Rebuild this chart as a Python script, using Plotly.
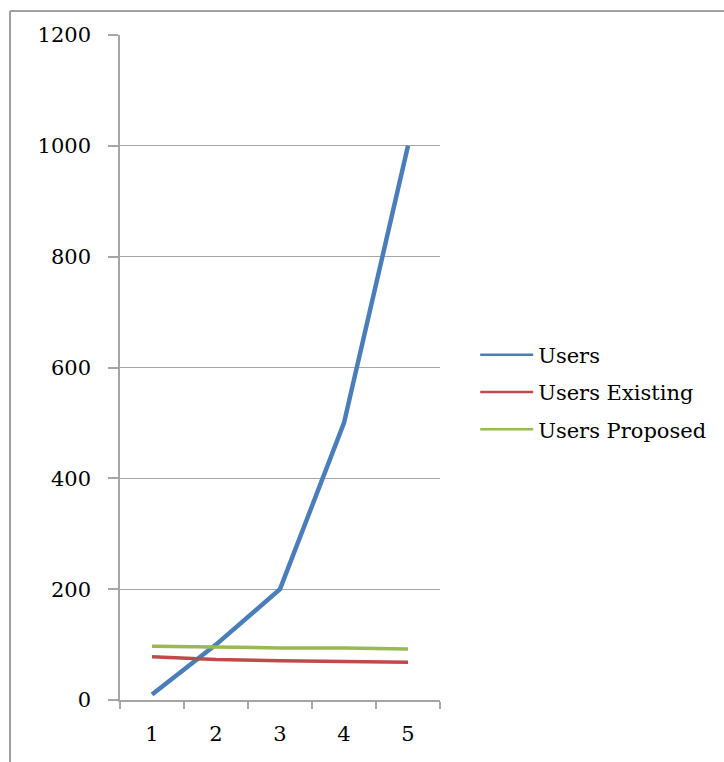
import plotly.graph_objects as go

# Category labels and series values
categories = ["1", "2", "3", "4", "5"]
users = [10, 100, 200, 500, 1000]
users_existing = [78, 73, 71, 70, 68]
users_proposed = [97, 95, 94, 94, 92]

y_ticks = [0, 200, 400, 600, 800, 1000, 1200]

W, H = 724, 762
L, R, T, B = 120, 284, 35, 62
FONT = "DejaVu Serif"
GRID = "#a6a6a6"

fig = go.Figure()
series = [
    ("Users", users, "#4a7ebb", 4.5),
    ("Users Existing", users_existing, "#be4b48", 3.5),
    ("Users Proposed", users_proposed, "#98b954", 3.5),
]
for name, vals, color, width in series:
    fig.add_trace(go.Scatter(
        x=categories, y=vals, mode="lines", name=name,
        line=dict(color=color, width=width), showlegend=False,
    ))
    # thinner line sample for the legend
    fig.add_trace(go.Scatter(
        x=[None], y=[None], mode="lines", name=name, legendgroup=name,
        line=dict(color=color, width=2.5),
    ))

fig.update_layout(
    width=W, height=H,
    margin=dict(l=L, r=R, t=T, b=B),
    paper_bgcolor="white", plot_bgcolor="white",
    font=dict(family=FONT, size=21, color="#000000"),
    legend=dict(
        x=1.11, y=0.463, xanchor="left", yanchor="middle",
        font=dict(family=FONT, size=21, color="#000000"),
        tracegroupgap=7, itemwidth=53,
        bgcolor="rgba(0,0,0,0)",
    ),
    xaxis=dict(
        type="category", range=[-0.5, 4.5],
        tickson="boundaries", ticks="outside", ticklen=7, tickwidth=1.5,
        tickcolor=GRID, showline=True, linecolor=GRID, linewidth=1.5,
        showgrid=False, zeroline=False, ticklabelstandoff=14,
    ),
    yaxis=dict(
        range=[0, 1200], tickvals=y_ticks, ticks="outside", ticklen=10,
        tickwidth=1.5, tickcolor=GRID, showline=True, linecolor=GRID,
        linewidth=1.5, showgrid=True, gridcolor=GRID, gridwidth=1.2,
        zeroline=False, ticklabelstandoff=13,
    ),
    shapes=[
        # chart-area frame (left and top edges)
        dict(type="line", xref="paper", yref="paper",
             x0=(10 - L) / (W - L - R), x1=(W + 5 - L) / (W - L - R),
             y0=(H - B - 11) / (H - T - B), y1=(H - B - 11) / (H - T - B),
             line=dict(color="#a0a0a0", width=2)),
        dict(type="line", xref="paper", yref="paper",
             x0=(10 - L) / (W - L - R), x1=(10 - L) / (W - L - R),
             y0=(H - B - 11) / (H - T - B), y1=(H - B - H - 5) / (H - T - B),
             line=dict(color="#a0a0a0", width=2)),
    ],
)

fig.write_html("out.html")
